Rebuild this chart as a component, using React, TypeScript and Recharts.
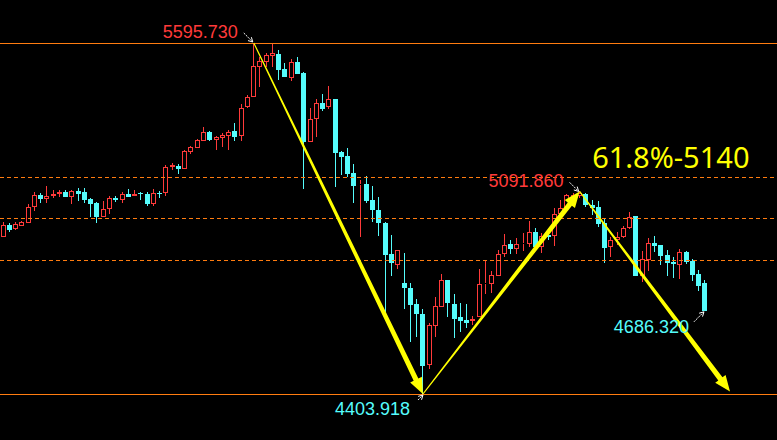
import React from 'react';
import { ComposedChart, Bar, XAxis, YAxis, ReferenceLine, ReferenceDot } from 'recharts';

// candles, one per session
const opens = [
  4938.0, 4977.7, 4963.1, 4975.3, 4985.5, 5037.8, 5079.6, 5066.0, 5075.2, 5082.0,
  5089.8, 5073.8, 5093.2, 5089.8, 5065.0, 5052.4, 5005.9, 5031.0, 5070.4, 5063.6,
  5083.0, 5075.2, 5085.5, 5083.0, 5050.0, 5085.8, 5085.3, 5173.6, 5178.1, 5168.9,
  5225.6, 5240.2, 5264.6, 5292.5, 5266.3, 5272.1, 5280.9, 5296.9, 5279.9, 5377.4,
  5413.4, 5515.2, 5532.2, 5552.6, 5558.3, 5507.4, 5477.9, 5531.2, 5494.9, 5260.6,
  5336.6, 5393.0, 5379.4, 5405.5, 5225.6, 5212.0, 5153.3, 5116.9, 5116.9, 5062.6,
  5028.7, 4985.5, 4879.2, 4841.9, 4781.8, 4764.8, 4709.5, 4675.5, 4501.3, 4634.8,
  4700.3, 4791.0, 4709.5, 4665.3, 4655.1, 4650.7, 4666.3, 4778.5, 4777.4, 4805.6,
  4878.2, 4913.2, 4897.3, 4913.5, 4913.2, 4952.9, 4904.0, 4944.8, 4940.4, 5015.1,
  5034.4, 5062.6, 5076.2, 5083.0, 5045.6, 5039.9, 4984.5, 4901.9, 4926.8, 4936.0,
  4966.5, 5008.3, 4804.5, 4858.9, 4917.6, 4909.8, 4874.8, 4853.1, 4841.9, 4886.0,
  4856.5, 4811.3, 4779.8,
];
const highs = [
  4986.9, 4983.5, 4987.9, 4990.0, 5049.0, 5089.8, 5085.3, 5110.1, 5096.6, 5095.5,
  5095.5, 5095.5, 5102.3, 5102.3, 5068.4, 5056.8, 5059.2, 5075.2, 5077.2, 5090.8,
  5100.0, 5096.6, 5090.8, 5089.8, 5099.0, 5094.2, 5181.4, 5188.2, 5183.8, 5232.4,
  5247.0, 5269.6, 5309.4, 5298.0, 5280.9, 5289.0, 5300.3, 5323.0, 5388.6, 5418.0,
  5595.73, 5547.1, 5560.7, 5592.3, 5571.9, 5526.8, 5540.4, 5547.1, 5496.0, 5374.0,
  5404.5, 5422.5, 5449.7, 5407.0, 5228.9, 5240.2, 5184.8, 5130.5, 5144.1, 5110.1,
  5071.8, 4987.0, 4943.7, 4894.0, 4883.6, 4781.8, 4725.4, 4691.5, 4645.9, 4732.2,
  4811.3, 4792.0, 4743.4, 4711.8, 4709.5, 4668.7, 4827.3, 4856.5, 4822.6, 4892.8,
  4947.2, 4926.8, 4932.6, 4951.6, 4991.3, 4966.5, 4951.6, 4960.7, 5034.4, 5062.6,
  5082.0, 5087.4, 5091.86, 5087.4, 5062.6, 5060.2, 5000.5, 4938.0, 4955.0, 4974.3,
  5021.9, 5009.0, 4889.4, 4932.6, 4940.4, 4911.0, 4892.8, 4868.0, 4897.3, 4889.4,
  4861.2, 4824.9, 4791.0,
];
const lows = [
  4936.0, 4955.0, 4962.0, 4974.0, 4985.0, 5026.3, 5053.4, 5051.4, 5070.4, 5071.8,
  5073.0, 5050.0, 5060.2, 5053.4, 5005.9, 4985.5, 5004.0, 5015.1, 5056.8, 5053.4,
  5073.0, 5075.0, 5062.6, 5042.2, 5042.2, 5069.4, 5077.2, 5165.5, 5150.9, 5167.0,
  5218.8, 5239.0, 5263.0, 5264.0, 5232.4, 5243.6, 5232.4, 5264.0, 5264.0, 5376.0,
  5412.0, 5445.3, 5513.2, 5513.2, 5470.1, 5480.0, 5467.7, 5489.0, 5100.0, 5259.0,
  5277.5, 5364.8, 5371.6, 5107.8, 5147.5, 5141.7, 5053.4, 4938.0, 5051.4, 4988.9,
  4940.4, 4677.9, 4804.5, 4827.3, 4691.5, 4581.5, 4598.4, 4403.918, 4487.7, 4598.4,
  4699.0, 4664.3, 4593.0, 4615.4, 4627.0, 4639.2, 4665.0, 4743.4, 4747.8, 4804.0,
  4868.0, 4879.2, 4879.2, 4890.4, 4902.0, 4903.0, 4882.6, 4926.8, 4906.4, 5008.3,
  5022.9, 5051.4, 5068.4, 5039.9, 5011.7, 4972.0, 4849.7, 4870.1, 4909.8, 4933.0,
  4963.1, 4803.0, 4785.2, 4822.6, 4887.0, 4841.9, 4804.5, 4796.7, 4794.4, 4845.3,
  4788.6, 4754.6, 4686.32,
];
const closes = [
  4977.7, 4960.7, 4980.1, 4986.9, 5037.8, 5079.6, 5066.0, 5075.2, 5082.0, 5089.8,
  5073.8, 5092.1, 5083.0, 5062.6, 5050.0, 5003.9, 5031.0, 5068.4, 5062.6, 5083.0,
  5073.8, 5083.0, 5084.5, 5050.0, 5085.3, 5084.8, 5173.6, 5181.4, 5167.9, 5229.0,
  5241.5, 5266.3, 5293.5, 5266.3, 5275.5, 5283.3, 5294.5, 5277.5, 5374.0, 5413.4,
  5517.6, 5533.6, 5554.9, 5561.7, 5504.0, 5481.3, 5530.2, 5490.4, 5260.6, 5336.6,
  5390.9, 5371.6, 5404.5, 5223.2, 5209.6, 5150.9, 5111.2, 5118.0, 5060.2, 5028.7,
  4983.5, 4875.8, 4849.7, 4892.8, 4762.8, 4706.1, 4675.5, 4498.9, 4637.1, 4702.7,
  4791.0, 4713.9, 4659.6, 4652.8, 4645.9, 4658.5, 4777.4, 4780.0, 4808.0, 4879.2,
  4909.8, 4897.3, 4913.2, 4915.0, 4952.9, 4904.0, 4941.4, 4938.0, 5015.1, 5036.5,
  5078.6, 5078.6, 5087.4, 5045.6, 5035.5, 4982.1, 4901.3, 4926.8, 4938.0, 4966.5,
  5003.9, 4804.5, 4861.2, 4917.6, 4907.4, 4872.5, 4849.7, 4845.3, 4886.0, 4853.1,
  4808.0, 4770.6, 4686.32,
];

// swing points marked on the chart
const swingHigh = { i: 40, price: 5595.73, label: '5595.730' };
const swingLow = { i: 67, price: 4403.918, label: '4403.918' };
const reboundHigh = { i: 92, price: 5091.86, label: '5091.860' };
const lastLow = { i: 112, price: 4686.32, label: '4686.320' };
const projection = { i: 116, price: 4412 };
const fibRatios = [0.618, 0.5, 0.382];
const fibText = '61.8%-5140';

const SLOTS = 124; // empty room on the right for the projection arrow
const W = 777;
const H = 440;
const RED = '#ff3a3a';
const CYAN = '#55fcfc';
const YELLOW = '#ffff00';
const ORANGE = '#ff7c10';

const data = Array.from({ length: SLOTS }, (_, i) =>
  i < opens.length
    ? { i, o: opens[i], h: highs[i], l: lows[i], c: closes[i], range: [lows[i], highs[i]] }
    : { i, range: null }
);

const fibPrices = fibRatios.map((r) => swingLow.price + r * (swingHigh.price - swingLow.price));

function Candle(props: any) {
  const { x, y, width, height, payload } = props;
  if (!payload || payload.o == null) return null;
  const { o, h, l, c } = payload;
  const top = Math.min(y, y + height);
  const bottom = Math.max(y, y + height);
  const py = (v: number) => (h === l ? top : top + ((h - v) / (h - l)) * (bottom - top));
  const cx = x + width / 2;
  const L = Math.round(cx - 2.5);
  const wx = L + 2.5;
  const up = c >= o;
  const bTop = Math.round(py(Math.max(o, c)));
  let bBot = Math.round(py(Math.min(o, c)));
  if (bBot <= bTop) bBot = bTop + 1;
  const wTop = Math.round(top);
  const wBot = Math.round(bottom);

  if (up) {
    return (
      <g>
        {wTop < bTop && <line x1={wx} x2={wx} y1={wTop} y2={bTop} stroke={RED} strokeWidth={1} />}
        {wBot > bBot && <line x1={wx} x2={wx} y1={bBot} y2={wBot} stroke={RED} strokeWidth={1} />}
        <rect x={L + 0.5} y={bTop + 0.5} width={4} height={Math.max(bBot - bTop - 1, 0)} fill="#000" stroke={RED} strokeWidth={1} />
      </g>
    );
  }
  return (
    <g>
      <line x1={wx} x2={wx} y1={wTop} y2={Math.max(wBot, bBot)} stroke={CYAN} strokeWidth={1} />
      <rect x={L} y={bTop} width={5} height={bBot - bTop} fill={CYAN} />
    </g>
  );
}

// horizontal level snapped to the pixel grid
function crispLevel(dash?: string) {
  return (props: any) => {
    const { x1, x2, y1 } = props;
    if (y1 == null || isNaN(y1)) return null;
    const yy = Math.round(y1) + 0.5;
    return <line x1={x1} x2={x2} y1={yy} y2={yy} stroke={ORANGE} strokeWidth={1} strokeDasharray={dash} />;
  };
}

// tapered yellow arrow, thin at the start and wide at the head
function TaperArrow(props: any) {
  const { x1, y1, x2, y2 } = props;
  if ([x1, y1, x2, y2].some((v) => v == null || isNaN(v))) return null;
  const dx = x2 - x1;
  const dy = y2 - y1;
  const len = Math.hypot(dx, dy);
  const ux = dx / len;
  const uy = dy / len;
  const nx = -uy;
  const ny = ux;
  const headLen = 16;
  const headHalf = 6.5;
  const w1 = 0.6;
  const w2 = 2.6;
  const bx = x2 - ux * headLen;
  const by = y2 - uy * headLen;
  const pts = [
    [x1 + nx * w1, y1 + ny * w1],
    [bx + nx * w2, by + ny * w2],
    [bx + nx * headHalf, by + ny * headHalf],
    [x2, y2],
    [bx - nx * headHalf, by - ny * headHalf],
    [bx - nx * w2, by - ny * w2],
    [x1 - nx * w1, y1 - ny * w1],
  ];
  return <polygon points={pts.map((p) => p.join(',')).join(' ')} fill={YELLOW} />;
}

// small white dotted pointer with a price label
function pointer(label: string, color: string, from: [number, number], to: [number, number], textEnd: [number, number]) {
  return (props: any) => {
    const { cx, cy } = props;
    if (cx == null || cy == null) return null;
    const ax = cx + from[0];
    const ay = cy + from[1];
    const bx = cx + to[0];
    const by = cy + to[1];
    const ang = Math.atan2(by - ay, bx - ax);
    const hl = 5;
    const p1 = [bx - hl * Math.cos(ang - 0.5), by - hl * Math.sin(ang - 0.5)];
    const p2 = [bx - hl * Math.cos(ang + 0.5), by - hl * Math.sin(ang + 0.5)];
    return (
      <g>
        <line x1={ax} y1={ay} x2={bx} y2={by} stroke="#fff" strokeWidth={1} strokeDasharray="2 1" />
        <polyline points={`${p1[0]},${p1[1]} ${bx},${by} ${p2[0]},${p2[1]}`} fill="none" stroke="#fff" strokeWidth={1} />
        <text
          x={cx + textEnd[0]}
          y={cy + textEnd[1]}
          textAnchor="end"
          fill={color}
          fontSize={18}
          fontFamily="'Liberation Sans', Arial, sans-serif"
        >
          {label}
        </text>
      </g>
    );
  };
}

const fibTextShape = (props: any) => {
  const { cx, cy } = props;
  if (cx == null || cy == null) return null;
  return (
    <text x={cx} y={cy - 9} fill={YELLOW} fontSize={29} fontFamily="'Noto Sans', sans-serif">
      {fibText}
    </text>
  );
};

export default function App() {
  return (
    <div style={{ position: 'absolute', left: 0, top: 0, width: W, height: H, background: '#000' }}>
      <ComposedChart width={W} height={H} data={data} margin={{ top: 0, right: 0, bottom: 0, left: 0 }} barCategoryGap={0}>
        <XAxis dataKey="i" type="category" hide />
        <YAxis type="number" domain={[4247.7, 5741.7]} allowDataOverflow hide />

        <ReferenceLine y={swingHigh.price} shape={crispLevel()} ifOverflow="visible" />
        <ReferenceLine y={swingLow.price} shape={crispLevel()} ifOverflow="visible" />
        {fibPrices.map((p, k) => (
          <ReferenceLine key={k} y={p} shape={crispLevel('4 3')} ifOverflow="visible" />
        ))}

        <Bar dataKey="range" shape={Candle} isAnimationActive={false} />

        <ReferenceLine
          segment={[{ x: swingHigh.i, y: swingHigh.price }, { x: swingLow.i, y: swingLow.price }]}
          shape={TaperArrow}
          ifOverflow="visible"
        />
        <ReferenceLine
          segment={[{ x: swingLow.i, y: swingLow.price }, { x: reboundHigh.i, y: reboundHigh.price }]}
          shape={TaperArrow}
          ifOverflow="visible"
        />
        <ReferenceLine
          segment={[{ x: reboundHigh.i, y: reboundHigh.price }, { x: projection.i, y: projection.price }]}
          shape={TaperArrow}
          ifOverflow="visible"
        />

        <ReferenceDot x={swingHigh.i} y={swingHigh.price} r={0} ifOverflow="visible"
          shape={pointer(swingHigh.label, RED, [-10, -10], [-1, -1], [-16, -5])} />
        <ReferenceDot x={reboundHigh.i} y={reboundHigh.price} r={0} ifOverflow="visible"
          shape={pointer(reboundHigh.label, RED, [-10, -9], [-1, 0], [-16, -4])} />
        <ReferenceDot x={swingLow.i} y={swingLow.price} r={0} ifOverflow="visible"
          shape={pointer(swingLow.label, CYAN, [-5, 6], [0, 1], [-13, 21])} />
        <ReferenceDot x={lastLow.i} y={lastLow.price} r={0} ifOverflow="visible"
          shape={pointer(lastLow.label, CYAN, [-11, 11], [-1, 1], [-16, 22])} />
        <ReferenceDot x={94} y={fibPrices[0]} r={0} ifOverflow="visible" shape={fibTextShape} />
      </ComposedChart>
    </div>
  );
}
